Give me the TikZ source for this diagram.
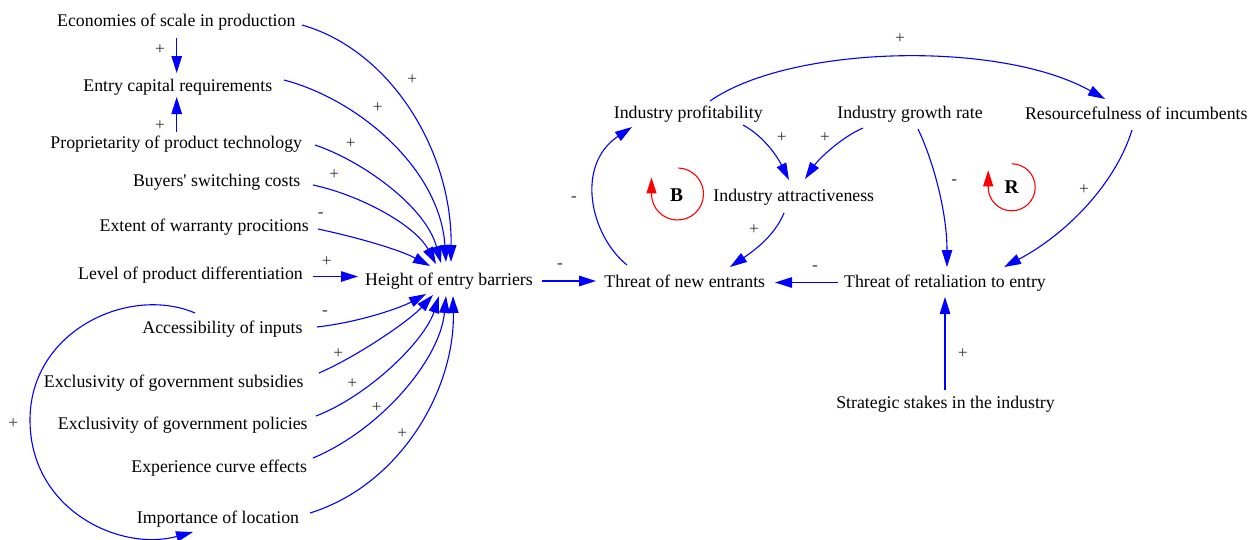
\documentclass[tikz,border=0pt]{standalone}
\usepackage{fontspec}
\setmainfont{Liberation Serif}
\newfontfamily\diagfont{Liberation Serif}
\usetikzlibrary{arrows.meta,calc}
\begin{document}
\begin{tikzpicture}[x=1pt,y=-1pt,
  var/.style={inner sep=0pt, text height=11.8pt, text depth=0pt, font=\diagfont\fontsize{17.8}{20}\selectfont},
  sgn/.style={inner sep=0pt, font=\diagfont\fontsize{17.3}{20}\selectfont, text=black!80},
  link/.style={draw=blue, line width=1.1pt, -{Triangle[length=17pt,width=10.5pt]}},
  loopline/.style={draw=red, line width=1.1pt, -{Triangle[length=16pt,width=10pt]}},
  looplbl/.style={inner sep=0pt, font=\diagfont\fontsize{19.5}{22}\selectfont\bfseries}]
\path[use as bounding box] (0,0) rectangle (1257,539);

% variables
\node[var] (eco) at (176.3,21)   {Economies of scale in production};
\node[var] (ecr) at (177.8,86)   {Entry capital requirements};
\node[var] (ppt) at (176.3,142.5){Proprietarity of product technology};
\node[var] (bsc) at (216.7,181)  {Buyers' switching costs};
\node[var] (ewp) at (204.2,225.5){Extent of warranty procitions};
\node[var] (lpd) at (190.5,274)  {Level of product differentiation};
\node[var] (hb)  at (449,279.5)  {Height of entry barriers};
\node[var] (acc) at (222.5,328)  {Accessibility of inputs};
\node[var] (egs) at (173.7,382)  {Exclusivity of government subsidies};
\node[var] (egp) at (182.8,423.5){Exclusivity of government policies};
\node[var] (ece) at (219.2,467)  {Experience curve effects};
\node[var] (iol) at (218,518)    {Importance of location};
\node[var] (tne) at (684.8,281.3){Threat of new entrants};
\node[var] (ipr) at (688.3,112.7){Industry profitability};
\node[var] (igr) at (910,112.7)  {Industry growth rate};
\node[var] (roi) at (1136.3,114) {Resourcefulness of incumbents};
\node[var] (iat) at (793.8,195.7){Industry attractiveness};
\node[var] (tre) at (945,281.5)  {Threat of retaliation to entry};
\node[var] (sst) at (945.5,403)  {Strategic stakes in the industry};

% causal links
\draw[link] ($(eco)+(0.4,17)$) -- ($(ecr)+(-1.1,-13)$);
\draw[link] ($(ppt)+(0.4,-10.5)$) -- ($(ecr)+(-1.1,11)$);
\draw[link] ($(eco)+(125.7,4)$) .. controls (390,50) and (452,150) .. ($(hb)+(2,-17.5)$);
\draw[link] ($(ecr)+(106.2,-6)$) .. controls (360,100) and (440,170) .. ($(hb)+(-3,-17.5)$);
\draw[link] ($(ppt)+(138.7,2.5)$) .. controls (360,160) and (425,205) .. ($(hb)+(-8,-16.5)$);
\draw[link] ($(bsc)+(96.3,4)$) .. controls (360,195) and (415,225) .. ($(hb)+(-13,-15.5)$);
\draw[link] ($(ewp)+(113.8,3.5)$) .. controls (360,238) and (400,250) .. ($(hb)+(-19,-13.5)$);
\draw[link] ($(lpd)+(122.5,2.5)$) -- ($(hb)+(-91,-3)$);
\draw[link] ($(acc)+(94.5,-1)$) .. controls (360,322) and (400,308) .. ($(hb)+(-23,14.5)$);
\draw[link] ($(egs)+(145.3,-9)$) .. controls (360,355) and (410,320) .. ($(hb)+(-16,15.5)$);
\draw[link] ($(egp)+(133.2,-7.5)$) .. controls (370,395) and (425,340) .. ($(hb)+(-10,16.5)$);
\draw[link] ($(ece)+(93.8,-9)$) .. controls (380,430) and (440,360) .. ($(hb)+(-3,16.5)$);
\draw[link] ($(iol)+(92,-5)$) .. controls (400,485) and (455,390) .. ($(hb)+(4,16.5)$);
\draw[link] ($(acc)+(-27.5,-15)$) .. controls (130,285) and (30,330) .. (30,420)
            .. controls (30,510) and (120,552) .. ($(iol)+(-25,14)$);

\draw[link] ($(hb)+(93,1.5)$) -- ($(tne)+(-88.8,-0.3)$);
\draw[link] ($(tne)+(-57.8,-16.3)$) .. controls (590,235) and (575,165) .. ($(ipr)+(-56.3,14.3)$);
\draw[link] ($(ipr)+(54.7,12.3)$) .. controls (765,137) and (778,158) .. ($(iat)+(-4.8,-15.7)$);
\draw[link] ($(igr)+(-47,15.3)$) .. controls (840,138) and (818,160) .. ($(iat)+(11.2,-16.7)$);
\draw[link] ($(iat)+(-9.8,17.3)$) .. controls (775,235) and (755,250) .. ($(tne)+(45.2,-14.3)$);
\draw[link] ($(tre)+(-107,1)$) -- ($(tne)+(90.2,1.2)$);
\draw[link] ($(ipr)+(21.7,-11.7)$) .. controls (790,45) and (1000,40) .. ($(roi)+(-31.3,-15)$);
\draw[link] ($(igr)+(8,16.3)$) .. controls (935,165) and (947,215) .. ($(tre)+(2,-14.5)$);
\draw[link] ($(roi)+(-4.3,16)$) .. controls (1115,185) and (1065,235) .. ($(tre)+(59,-14.5)$);
\draw[link] ($(sst)+(-0.5,-13)$) -- ($(tre)+(0,15.5)$);

% polarities
\node[sgn] at (160,49.3) {+};
\node[sgn] at (160,125.7) {+};
\node[sgn] at (412.3,79.3) {+};
\node[sgn] at (377.7,107.3) {+};
\node[sgn] at (350.7,144) {+};
\node[sgn] at (334.3,175) {+};
\node[sgn] at (320.7,215) {-};
\node[sgn] at (326.7,261.7) {+};
\node[sgn] at (325,313.3) {-};
\node[sgn] at (338.3,353.3) {+};
\node[sgn] at (352.3,384) {+};
\node[sgn] at (376.7,407.3) {+};
\node[sgn] at (402.3,434) {+};
\node[sgn] at (13.3,424) {+};
\node[sgn] at (574,199.3) {-};
\node[sgn] at (781.7,137.3) {+};
\node[sgn] at (825,137.3) {+};
\node[sgn] at (754,229.3) {+};
\node[sgn] at (560,265.7) {-};
\node[sgn] at (815,268.3) {-};
\node[sgn] at (900,39) {+};
\node[sgn] at (954.3,181.7) {-};
\node[sgn] at (1084,190) {+};
\node[sgn] at (962.7,354) {+};

% loop markers
\node[looplbl] (B) at (676.7,195) {B};
\draw[loopline] ($(B)+(1.7,-27)$) arc[start angle=88, end angle=-180, radius=26pt] -- ++(0pt,16.5pt);
\node[looplbl] (R) at (1011.7,187.3) {R};
\draw[loopline] ($(R)+(0,-23.5)$) arc[start angle=90, end angle=-180, radius=23.5pt] -- ++(0pt,17pt);
\end{tikzpicture}
\end{document}
